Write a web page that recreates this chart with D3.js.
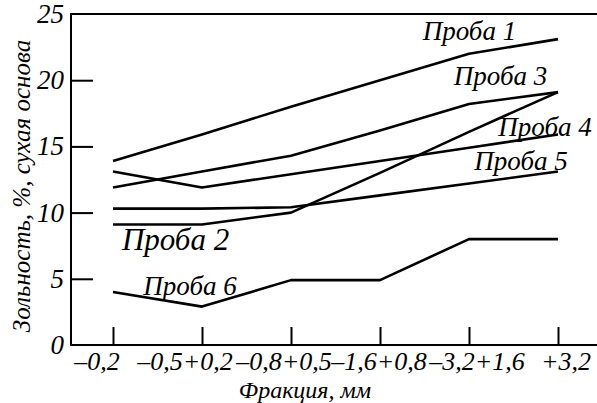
<!DOCTYPE html>
<html>
<head>
<meta charset="utf-8">
<script src="https://cdn.jsdelivr.net/npm/d3@7"></script>
<style>
    body { margin: 0; background: #fff; font-family: "Times New Roman", "Liberation Serif", serif; }
</style>
</head>
<body>
<script>

//--- Daten ------------------------------------------------------------------------------------------------ //

var fractions = ['–0,2', '–0,5+0,2', '–0,8+0,5', '–1,6+0,8', '–3,2+1,6', '+3,2'];

var proba1 = [13.9, 15.9, 18.0, 20.0, 22.0, 23.1];
var proba2 = [9.1, 9.1, 10.0, 13.0, 16.1, 19.1];
var proba3 = [11.9, 13.1, 14.3, 16.2, 18.2, 19.1];
var proba4 = [13.1, 11.9, 12.9, 13.9, 14.9, 15.9];
var proba5 = [10.3, 10.3, 10.4, 11.3, 12.2, 13.1];
var proba6 = [4.0, 2.9, 4.9, 4.9, 8.0, 8.0];

var seriesNames = ['Проба 1', 'Проба 2', 'Проба 3', 'Проба 4', 'Проба 5', 'Проба 6'];

var yTicks = [0, 5, 10, 15, 20, 25];


//--- Layout ----------------------------------------------------------------------------------------------- //

var width = 597,
    height = 403;

var plot = { left: 71, top: 14, bottom: 345, right: 597 };

var fontName = '"Times New Roman"';

// Beschriftung der Kurven: Lage in Datenkoordinaten (Index der Fraktion, Wert)
var labelPos = [
    { i: 3.48, v: 23.0, size: 27 },
    { i: 0.10, v: 7.2,  size: 31 },
    { i: 3.83, v: 19.6, size: 27 },
    { i: 4.33, v: 15.8, size: 27 },
    { i: 4.06, v: 13.2, size: 27 },
    { i: 0.34, v: 3.8,  size: 27 }
];

// Verschiebung der Fraktionsbeschriftung gegen den Tick
var tickLabelShift = [-16, -17, -7, -1, 8, 8];


//--- SVG generieren mit d3 -------------------------------------------------------------------------------- //

function renderChart() {

    var series = [proba1, proba2, proba3, proba4, proba5, proba6];

    var svg = d3.select('body').append('svg')
        .attr('width', width)
        .attr('height', height);

    var x = d3.scalePoint()
        .domain(fractions)
        .range([113, 558]);

    var xi = d3.scaleLinear()
        .domain([0, fractions.length - 1])
        .range([113, 558]);

    var y = d3.scaleLinear()
        .domain([0, 25])
        .range([plot.bottom, plot.top]);

    // Rahmen oben
    svg.append('line')
        .attr('x1', plot.left).attr('x2', plot.right)
        .attr('y1', y(25)).attr('y2', y(25))
        .attr('stroke', '#000').attr('stroke-width', 2);

    // y-Achse
    var yAxis = d3.axisRight(y)
        .tickValues(yTicks.filter(function (d) { return d > 0 && d < 25; }))
        .tickSize(22)
        .tickFormat('');

    var gy = svg.append('g')
        .attr('transform', 'translate(' + plot.left + ',0)')
        .call(yAxis);
    gy.select('.domain').remove();
    gy.selectAll('line').attr('stroke', '#000').attr('stroke-width', 2);

    svg.append('line')
        .attr('x1', plot.left).attr('x2', plot.left)
        .attr('y1', y(25) - 1).attr('y2', plot.bottom + 1)
        .attr('stroke', '#000').attr('stroke-width', 2);

    // x-Achse
    var xAxis = d3.axisTop(x)
        .tickSize(18)
        .tickFormat('');

    var gx = svg.append('g')
        .attr('transform', 'translate(0,' + plot.bottom + ')')
        .call(xAxis);
    gx.select('.domain').remove();
    gx.selectAll('line').attr('stroke', '#000').attr('stroke-width', 2);

    svg.append('line')
        .attr('x1', plot.left).attr('x2', plot.right)
        .attr('y1', plot.bottom).attr('y2', plot.bottom)
        .attr('stroke', '#000').attr('stroke-width', 2);

    // Kurven
    var line = d3.line()
        .x(function (d, i) { return x(fractions[i]); })
        .y(function (d) { return y(d); });

    svg.selectAll('.probe')
        .data(series)
        .enter().append('path')
        .attr('class', 'probe')
        .attr('d', line)
        .attr('fill', 'none')
        .attr('stroke', '#000')
        .attr('stroke-width', 2.6)
        .attr('stroke-linejoin', 'round');

    // Texte
    var texts = [];

    yTicks.forEach(function (d) {
        texts.push({ t: String(d), x: 64, y: y(d) + 9, size: 27, anchor: 'end' });
    });
    fractions.forEach(function (d, i) {
        texts.push({ t: d, x: x(d) + tickLabelShift[i], y: 370, size: 26, anchor: 'middle' });
    });
    texts.push({ t: 'Фракция, мм', x: 305, y: 398, size: 24, anchor: 'middle' });
    seriesNames.forEach(function (d, i) {
        texts.push({ t: d, x: xi(labelPos[i].i), y: y(labelPos[i].v), size: labelPos[i].size, anchor: 'start' });
    });

    svg.selectAll('.lab')
        .data(texts)
        .enter().append('text')
        .attr('class', 'lab')
        .attr('x', function (d) { return d.x; })
        .attr('y', function (d) { return d.y; })
        .attr('text-anchor', function (d) { return d.anchor; })
        .attr('font-size', function (d) { return d.size; })
        .style('font-family', fontName)
        .style('font-style', 'italic')
        .text(function (d) { return d.t; });

    svg.append('text')
        .attr('transform', 'translate(30,186) rotate(-90)')
        .attr('text-anchor', 'middle')
        .attr('font-size', 25)
        .style('font-family', fontName)
        .style('font-style', 'italic')
        .text('Зольность, %, сухая основа');
}


//--- Start ------------------------------------------------------------------------------------------------ //

renderChart();

</script>
</body>
</html>
